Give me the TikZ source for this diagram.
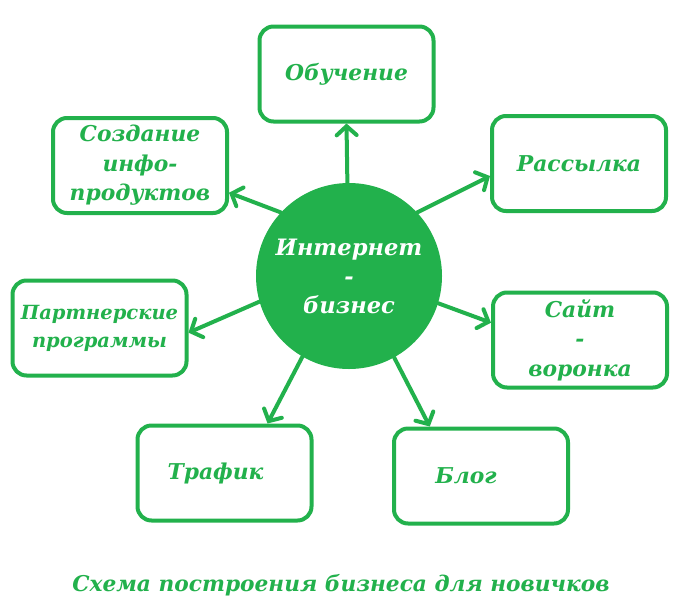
\documentclass[tikz,border=0pt]{standalone}
\usepackage{fontspec}
\setmainfont{DejaVu Serif}
\usetikzlibrary{arrows.meta}
\definecolor{pgreen}{RGB}{34,177,76}
\tikzset{
  box/.style={draw=pgreen, line width=4pt, rounded corners=14pt, minimum width=174pt, minimum height=95pt, align=center, text=pgreen, font=\bfseries\itshape\fontsize{21.8}{29.5}\selectfont, fill=white, inner sep=2pt},
  hub/.style={circle, fill=pgreen, minimum size=186pt, inner sep=0pt, align=center, text=white, font=\bfseries\itshape\fontsize{22.6}{29}\selectfont},
  conn/.style={draw=pgreen, line width=4pt, line cap=round, -{Straight Barb[length=9pt,width=20pt,line cap=round,line width=4pt]}},
  lbl/.style={text=pgreen, font=\bfseries\itshape\fontsize{21.7}{24}\selectfont}
}
\begin{document}
\begin{tikzpicture}[x=1pt,y=-1pt]
\useasboundingbox[fill=white] (0,0) rectangle (692,613);
\node[hub] (c) at (349,276) {Интернет\\-\\бизнес};
\node[box] (ob) at (346.5,74) {Обучение};
\node[box] (ra) at (579,163.5) {Рассылка};
\node[box] (so) at (140,165.5) {Создание\\инфо-\\продуктов};
\node[box, font=\bfseries\itshape\fontsize{19.5}{28}\selectfont] (pa) at (99.5,328) {Партнерские\\программы};
\node[box] (sa) at (580,340) {Сайт\\-\\воронка};
\node[box, text width=160pt] (tr) at (224.5,473) {Трафик\hspace*{18pt}};
\node[box, text width=160pt] (bl) at (481,476) {Блог\hspace*{30pt}};
\node[lbl] (title) at (341,585) {Схема построения бизнеса для новичков};
\draw[conn] (c.91) -- (ob.south);
\draw[conn] (c.43.7) -- (ra.188.6);
\draw[conn] (c.137.6) -- (so.343.6);
\draw[conn] (c.196) -- (pa.357.5);
\draw[conn] (c.343.5) -- (sa.169.3);
\draw[conn] (c.240.7) -- (tr.49.5);
\draw[conn] (c.299.3) -- (bl.136.7);
\end{tikzpicture}
\end{document}
